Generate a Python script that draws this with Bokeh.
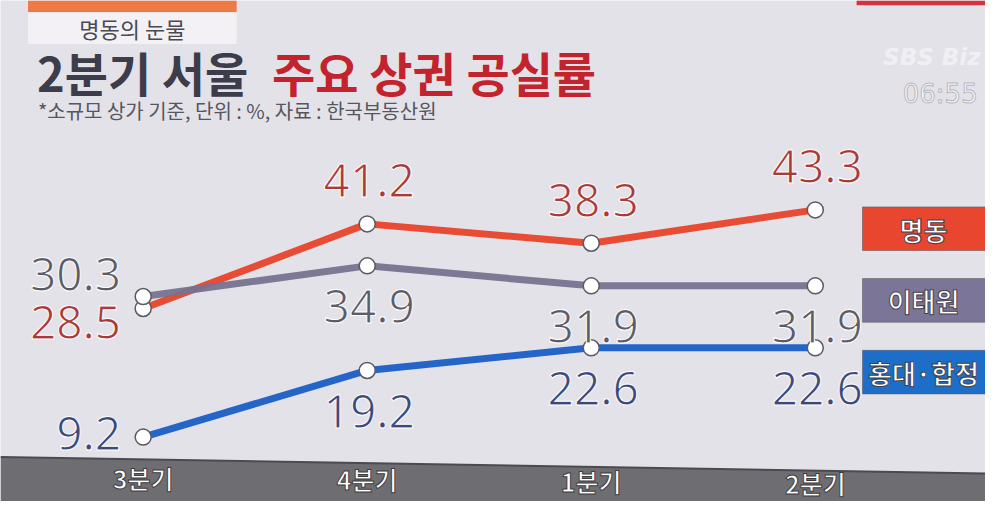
from bokeh.plotting import figure
from bokeh.models import Range1d
from bokeh.core.properties import value
from bokeh.embed import file_html
from bokeh.resources import INLINE

# ---- data ----
quarters = ["3분기", "4분기", "1분기", "2분기"]
myeongdong = [28.5, 41.2, 38.3, 43.3]
itaewon = [30.3, 34.9, 31.9, 31.9]
hongdae = [9.2, 19.2, 22.6, 22.6]
series_names = ["명동", "이태원", "홍대·합정"]
title_dark = "2분기 서울"
title_red = "주요 상권 공실률"
subtitle = "*소규모 상가 기준, 단위 : %, 자료 : 한국부동산원"
tag_text = "명동의 눈물"

FONT = "Noto Sans CJK KR"
NUMFONT = "Noto Sans"
BG = "#e4e2e9"

W, H = 985, 501
p = figure(width=W, height=H, output_backend="svg", toolbar_location=None,
           x_range=Range1d(-0.6369, 3.7599), y_range=Range1d(-0.47, 74.73),
           min_border=0, background_fill_color=BG, border_fill_color=BG)
p.outline_line_color = None
p.axis.visible = False
p.grid.visible = False
# pixel-space ranges for decorations (reference-image coordinates)
p.extra_x_ranges = {"px": Range1d(0, 1001)}
p.extra_y_ranges = {"py": Range1d(517, 0)}

def ptext(x, y, t, size, color, bold=False, align="left", baseline="middle",
          font=FONT, outline=None, alpha=1.0, italic=False):
    style = "bold" if bold else "normal"
    if italic:
        style = "bold italic" if bold else "italic"
    kw = {}
    if outline:
        kw["text_outline_color"] = outline
    p.text(x=[x], y=[y], text=[t], x_range_name="px", y_range_name="py",
           text_font=value(font), text_font_size=f"{size}px", text_color=color,
           text_font_style=style, text_align=align, text_baseline=baseline,
           text_alpha=alpha, **kw)

# ---- header ----
p.quad(left=[870], right=[1001], top=[0], bottom=[5], x_range_name="px",
       y_range_name="py", fill_color="#d4343e", line_color=None)
p.quad(left=[28], right=[240], top=[0], bottom=[12], x_range_name="px",
       y_range_name="py", fill_color="#f07a45", line_color=None)
p.quad(left=[28], right=[240], top=[12], bottom=[45], x_range_name="px",
       y_range_name="py", fill_color="#f3f1f4", line_color=None)
ptext(134, 28, tag_text, 22, "#4a4a52", align="center")
ptext(37, 73, title_dark, 47, "#3c3c4a", bold=True)
ptext(276, 73, title_red, 47, "#c2232c", bold=True)
ptext(38, 113, subtitle, 20, "#56565e")
ptext(996, 58, "SBS Biz", 23, "#f2f2f6", bold=True, italic=True, align="right",
      font="DejaVu Sans", alpha=0.9)
ptext(955, 97, "06:55", 26, "#f6f6f8", align="center", font="DejaVu Sans",
      outline="#b8b8c0")

# ---- bottom band ----
p.patch(x=[0, 1001, 1001, 0], y=[471, 488, 517, 517], x_range_name="px",
        y_range_name="py", fill_color="#6d6d72", line_color=None)
p.line(x=[0, 1001], y=[471, 488], x_range_name="px", y_range_name="py",
       line_color="#4a4a50", line_width=2)
xs = list(range(len(quarters)))
band_y = [493, 494, 496, 498]
p.text(x=xs, y=band_y, text=quarters, y_range_name="py",
       text_font=value(FONT), text_font_size="25px", text_color="white",
       text_font_style="bold", text_align="center", text_baseline="middle",
       text_outline_color="#3c3c40")

# ---- series ----
line_colors = ["#e8432b", "#77728f", "#1b5ec6"]
box_colors = ["#e8462f", "#7b7697", "#1d6ec8"]
label_colors = ["#a93a3a", "#5c5c66", "#3b4a7a"]
values = [myeongdong, itaewon, hongdae]
label_dy = [-43, 41, 41]  # screen px, negative = above
first_dy = [14, -22, -4]

for vals, lc in zip(values, line_colors):
    p.line(xs, vals, line_color=lc, line_width=7, line_alpha=0.95)
for vals in values:
    p.scatter(xs, vals, size=16, fill_color="white", line_color="#5a5a60",
              line_width=1.5)

for vals, tc, dy, fdy in zip(values, label_colors, label_dy, first_dy):
    labels = [f"{v:.1f}" for v in vals]
    # first point: label to the left
    p.text(x=xs[:1], y=vals[:1], text=labels[:1], x_offset=-22, y_offset=fdy,
           text_font=value(NUMFONT), text_font_size="46px", text_color=tc,
           text_align="right", text_baseline="middle",
           text_outline_color="white")
    p.text(x=xs[1:], y=vals[1:], text=labels[1:], x_offset=2, y_offset=dy,
           text_font=value(NUMFONT), text_font_size="46px", text_color=tc,
           text_align="center", text_baseline="middle",
           text_outline_color="white")

# ---- legend boxes ----
box_tops = [213, 287, 361]
for name, fill, top in zip(series_names, box_colors, box_tops):
    p.quad(left=[876], right=[1001], top=[top], bottom=[top + 45],
           x_range_name="px", y_range_name="py", fill_color=fill,
           line_color="#55505a", line_width=1, line_alpha=0.5)
    p.text(x=[938], y=[top + 23], text=[name], x_range_name="px",
           y_range_name="py", text_font=value(FONT), text_font_size="26px",
           text_color="white", text_font_style="bold", text_align="center",
           text_baseline="middle", text_outline_color="#44404a")

open("out.html", "w").write(file_html(p, INLINE))
